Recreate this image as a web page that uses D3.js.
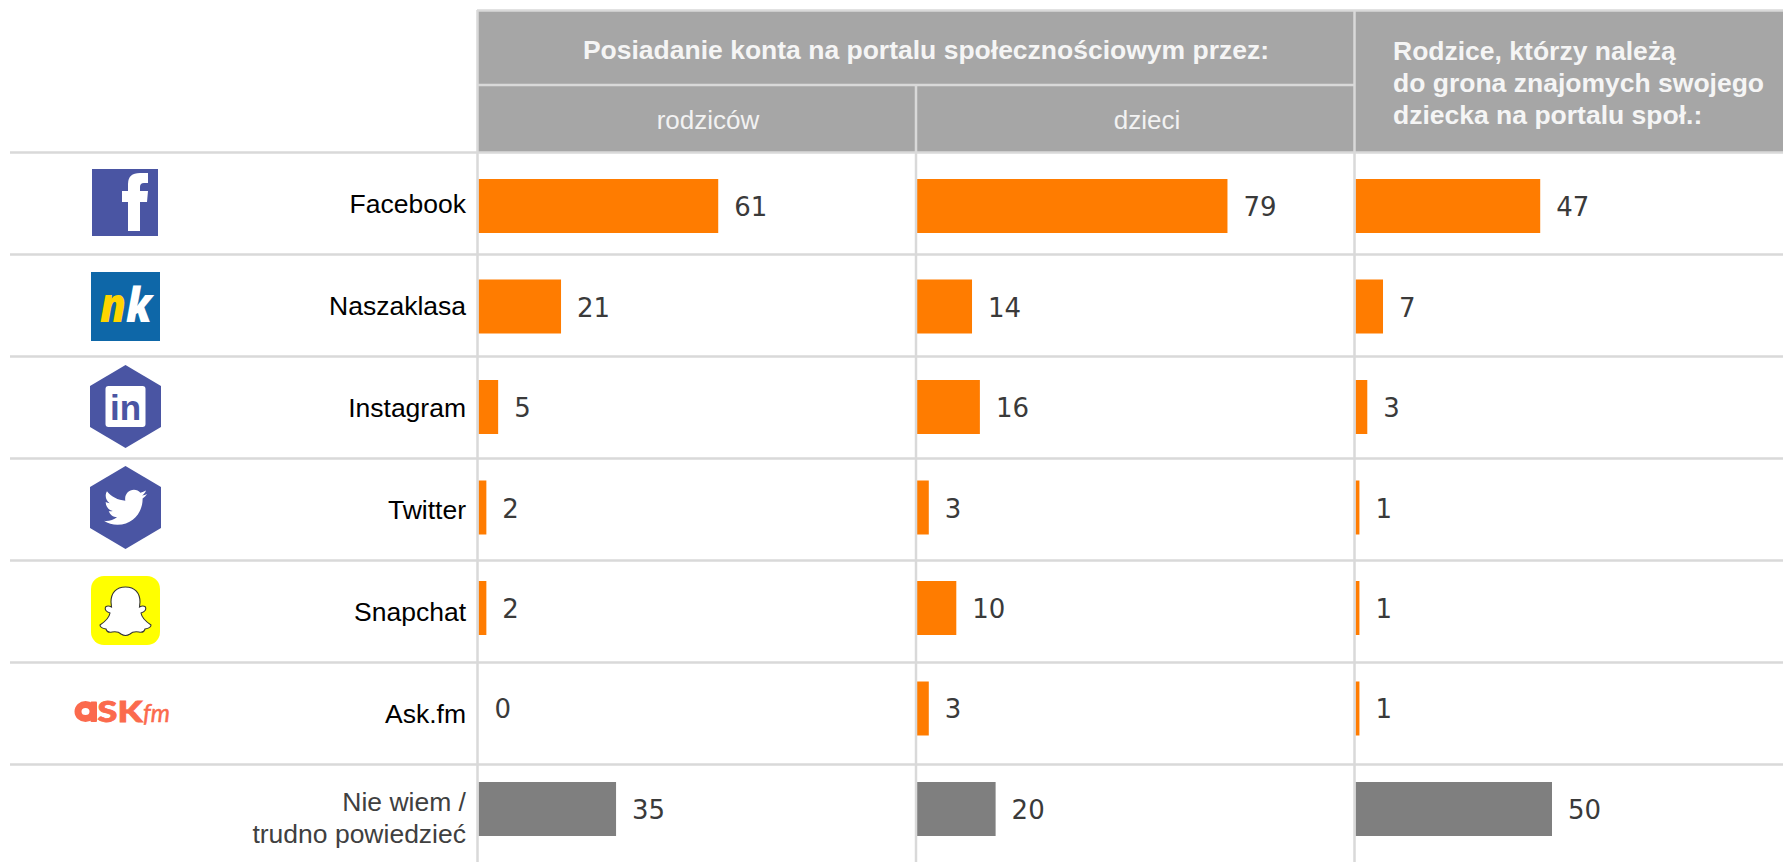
<!DOCTYPE html>
<html>
<head>
<meta charset="utf-8">
<script src="https://cdn.jsdelivr.net/npm/d3@7"></script>
<style>
    html, body { margin: 0; padding: 0; background: #fff; overflow: hidden; }
    svg { display: block; }
    text { font-family: "Liberation Sans", Arial, sans-serif; }
    .value { font-family: "DejaVu Sans", Verdana, sans-serif; font-size: 26px; fill: #3a3a3a; }
    .cat { font-size: 26.5px; fill: #000; text-anchor: end; }
</style>
</head>
<body>
<svg id="chart" width="1783" height="862"></svg>
<script>
const platforms = ['Facebook', 'Naszaklasa', 'Instagram', 'Twitter', 'Snapchat', 'Ask.fm', 'Nie wiem'];
const parents = [61, 21, 5, 2, 2, 0, 35];
const children = [79, 14, 16, 3, 10, 3, 20];
const parentsInFriends = [47, 7, 3, 1, 1, 1, 50];
const columnNames = ['rodziców', 'dzieci', 'znajomi'];
const mainHeader = 'Posiadanie konta na portalu społecznościowym przez:';
const sideHeader = ['Rodzice, którzy należą', 'do grona znajomych swojego', 'dziecka na portalu społ.:'];
const lastLabel = ['Nie wiem /', 'trudno powiedzieć'];

const GRID = '#d9d9d9', HEAD = '#a6a6a6', ORANGE = '#ff7c00', GREY = '#7f7f7f', BLUE = '#4a55a3';

const svg = d3.select('#chart');
const series = [parents, children, parentsInFriends];

// columns are 438.5px wide, bars start just right of the divider
const xCol = d3.scaleBand().domain(columnNames).range([477.5, 1793]);
const xVal = d3.scaleLinear().domain([0, 100]).range([0, 393]);
// bars and grid rows do not share a pitch in the original
const yBar = d3.scaleBand().domain(platforms).range([132.5, 882.5]).padding(0.4627);
const yRow = d3.scaleBand().domain(platforms).range([152.5, 866.5]);

// header block
svg.append('rect').attr('x', 478).attr('y', 11).attr('width', 1305).attr('height', 141).attr('fill', HEAD);

// bars
columnNames.forEach((c, ci) => {
    const g = svg.append('g').attr('transform', `translate(${xCol(c) + 1},0)`);
    g.selectAll('rect')
        .data(series[ci])
        .enter()
        .append('rect')
        .attr('x', 0)
        .attr('y', (d, i) => yBar(platforms[i]))
        .attr('width', d => xVal(d))
        .attr('height', yBar.bandwidth())
        .attr('fill', (d, i) => i === platforms.length - 1 ? GREY : ORANGE);
    g.selectAll('text')
        .data(series[ci])
        .enter()
        .append('text')
        .classed('value', true)
        .attr('x', d => xVal(d) + 16)
        .attr('y', (d, i) => yBar(platforms[i]) + yBar.bandwidth() / 2 + 10)
        .text(d => d);
});

// grid
const grid = svg.append('g').attr('stroke', GRID).attr('stroke-width', 2.5).attr('fill', 'none');
grid.selectAll('.row')
    .data(platforms)
    .enter()
    .append('line')
    .classed('row', true)
    .attr('x1', 10).attr('x2', 1783)
    .attr('y1', d => yRow(d)).attr('y2', d => yRow(d));
grid.append('line').attr('x1', 477).attr('x2', 1783).attr('y1', 10.5).attr('y2', 10.5);
grid.append('line').attr('x1', 478).attr('x2', 1355).attr('y1', 85).attr('y2', 85);
grid.selectAll('.col')
    .data(columnNames)
    .enter()
    .append('line')
    .classed('col', true)
    .attr('x1', d => xCol(d)).attr('x2', d => xCol(d))
    .attr('y1', (d, i) => i === 1 ? 85 : 10)
    .attr('y2', 862);

// header text
svg.append('text').attr('x', 926).attr('y', 59).attr('text-anchor', 'middle')
    .attr('font-size', 26.5).attr('font-weight', 'bold').attr('fill', '#f5f5f5').text(mainHeader);
svg.append('text').attr('x', 708).attr('y', 128.5).attr('text-anchor', 'middle')
    .attr('font-size', 26).attr('fill', '#f2f2f2').text(columnNames[0]);
svg.append('text').attr('x', 1147).attr('y', 128.5).attr('text-anchor', 'middle')
    .attr('font-size', 26).attr('fill', '#f2f2f2').text(columnNames[1]);
svg.append('g').selectAll('text')
    .data(sideHeader)
    .enter()
    .append('text')
    .attr('x', 1393)
    .attr('y', (d, i) => 60 + i * 32)
    .attr('font-size', 26.5).attr('font-weight', 'bold').attr('fill', '#f5f5f5')
    .text(d => d);

// category labels
svg.append('g').selectAll('text')
    .data(platforms.slice(0, 6))
    .enter()
    .append('text')
    .classed('cat', true)
    .attr('x', 466)
    .attr('y', (d, i) => yRow(d) + 60.5)
    .text(d => d);
svg.append('g').selectAll('text')
    .data(lastLabel)
    .enter()
    .append('text')
    .classed('cat', true)
    .attr('x', 466)
    .attr('y', (d, i) => 811 + i * 32)
    .style('fill', '#404040')
    .text(d => d);

// logos
const hexagon = 'M0,-41.5 L35.5,-20.5 L35.5,20.5 L0,41.5 L-35.5,20.5 L-35.5,-20.5 Z';

const fb = svg.append('g').attr('transform', 'translate(92,169)');
fb.append('rect').attr('width', 66).attr('height', 67).attr('fill', BLUE);
fb.append('path').attr('fill', '#fff')
    .attr('d', 'M36,62 L36,33 L30,33 L30,22 L36,22 L36,15 Q36,4 48,4 L56,4 L56,14 L52,14 Q48,14 48,18 L48,22 L56,22 L55,33 L48,33 L48,62 Z');

const nk = svg.append('g').attr('transform', 'translate(91,272)');
nk.append('rect').attr('width', 69).attr('height', 69).attr('fill', '#0e67a8');
const nkText = nk.append('text').attr('x', 9).attr('y', 50).attr('font-size', 48).attr('font-weight', 800).attr('font-style', 'italic')
    .style('font-family', '"Open Sans"')
    .attr('textLength', 52).attr('lengthAdjust', 'spacingAndGlyphs');
nkText.append('tspan').attr('fill', '#ffd500').text('n');
nkText.append('tspan').attr('fill', '#fff').text('k');

const li = svg.append('g').attr('transform', 'translate(125.5,406.5)');
li.append('path').attr('d', hexagon).attr('fill', BLUE);
li.append('rect').attr('x', -20).attr('y', -20.5).attr('width', 40).attr('height', 41).attr('rx', 3).attr('fill', '#fff');
li.append('text').attr('x', 0).attr('y', 13).attr('text-anchor', 'middle').attr('font-size', 35).attr('font-weight', 'bold')
    .attr('fill', BLUE).text('in');

const tw = svg.append('g').attr('transform', 'translate(125.5,507.5)');
tw.append('path').attr('d', hexagon).attr('fill', BLUE);
tw.append('path').attr('fill', '#fff').attr('transform', 'translate(-21.6,-21.8) scale(1.8)')
    .attr('d', 'M24 4.6c-.9.4-1.8.7-2.8.8 1-.6 1.8-1.6 2.2-2.7-1 .6-2 1-3.1 1.2-.9-1-2.2-1.6-3.6-1.6-2.7 0-4.9 2.2-4.9 4.9 0 .4 0 .8.1 1.1C7.8 8.1 4.1 6.1 1.7 3.1c-.4.7-.7 1.6-.7 2.5 0 1.7.9 3.2 2.2 4.1-.8 0-1.6-.2-2.2-.6v.1c0 2.4 1.7 4.4 3.9 4.8-.4.1-.8.2-1.3.2-.3 0-.6 0-.9-.1.6 2 2.4 3.4 4.6 3.4-1.7 1.3-3.8 2.1-6.1 2.1-.4 0-.8 0-1.2-.1C2.2 20.9 4.8 21.7 7.5 21.7c9.1 0 14-7.5 14-14v-.6c1-.7 1.8-1.6 2.5-2.5z');

const sc = svg.append('g').attr('transform', 'translate(91,576)');
sc.append('rect').attr('width', 69).attr('height', 69).attr('rx', 13).attr('fill', '#ffff00');
sc.append('path').attr('fill', '#fff').attr('stroke', '#333').attr('stroke-width', 1.1)
    .attr('d', 'M34.5,11 C25,11 20,17 20,26 L20.5,31 Q17,29 14.5,31 Q13,35 19,37 Q18,43 9,49 Q9,52 15,53 Q16,57 21,56 Q27,55 30,58 Q34.5,61 39,58 Q42,55 48,56 Q53,57 54,53 Q60,52 60,49 Q51,43 50,37 Q56,35 54.5,31 Q52,29 48.5,31 L49,26 C49,17 44,11 34.5,11 Z');

const ASK = '#fb6a4d';
const ask = svg.append('g').attr('transform', 'translate(75,722)');
ask.append('ellipse').attr('cx', 10.5).attr('cy', -10.5).attr('rx', 7.5).attr('ry', 7)
    .attr('fill', 'none').attr('stroke', ASK).attr('stroke-width', 7);
ask.append('rect').attr('x', 15.5).attr('y', -20.5).attr('width', 6.5).attr('height', 20.5).attr('rx', 1).attr('fill', ASK);
ask.append('text').attr('x', 22.5).attr('y', 0).attr('font-size', 29).attr('font-weight', 900)
    .style('font-family', 'Lato').attr('fill', ASK).attr('stroke', ASK).attr('stroke-width', 0.8)
    .attr('textLength', 45).attr('lengthAdjust', 'spacingAndGlyphs').text('SK');
ask.append('text').attr('x', 68).attr('y', 0).attr('font-size', 25).attr('font-style', 'italic')
    .style('font-family', 'Lato').attr('fill', ASK).attr('stroke', ASK).attr('stroke-width', 0.5)
    .attr('textLength', 27).attr('lengthAdjust', 'spacingAndGlyphs').text('fm');
</script>
</body>
</html>
